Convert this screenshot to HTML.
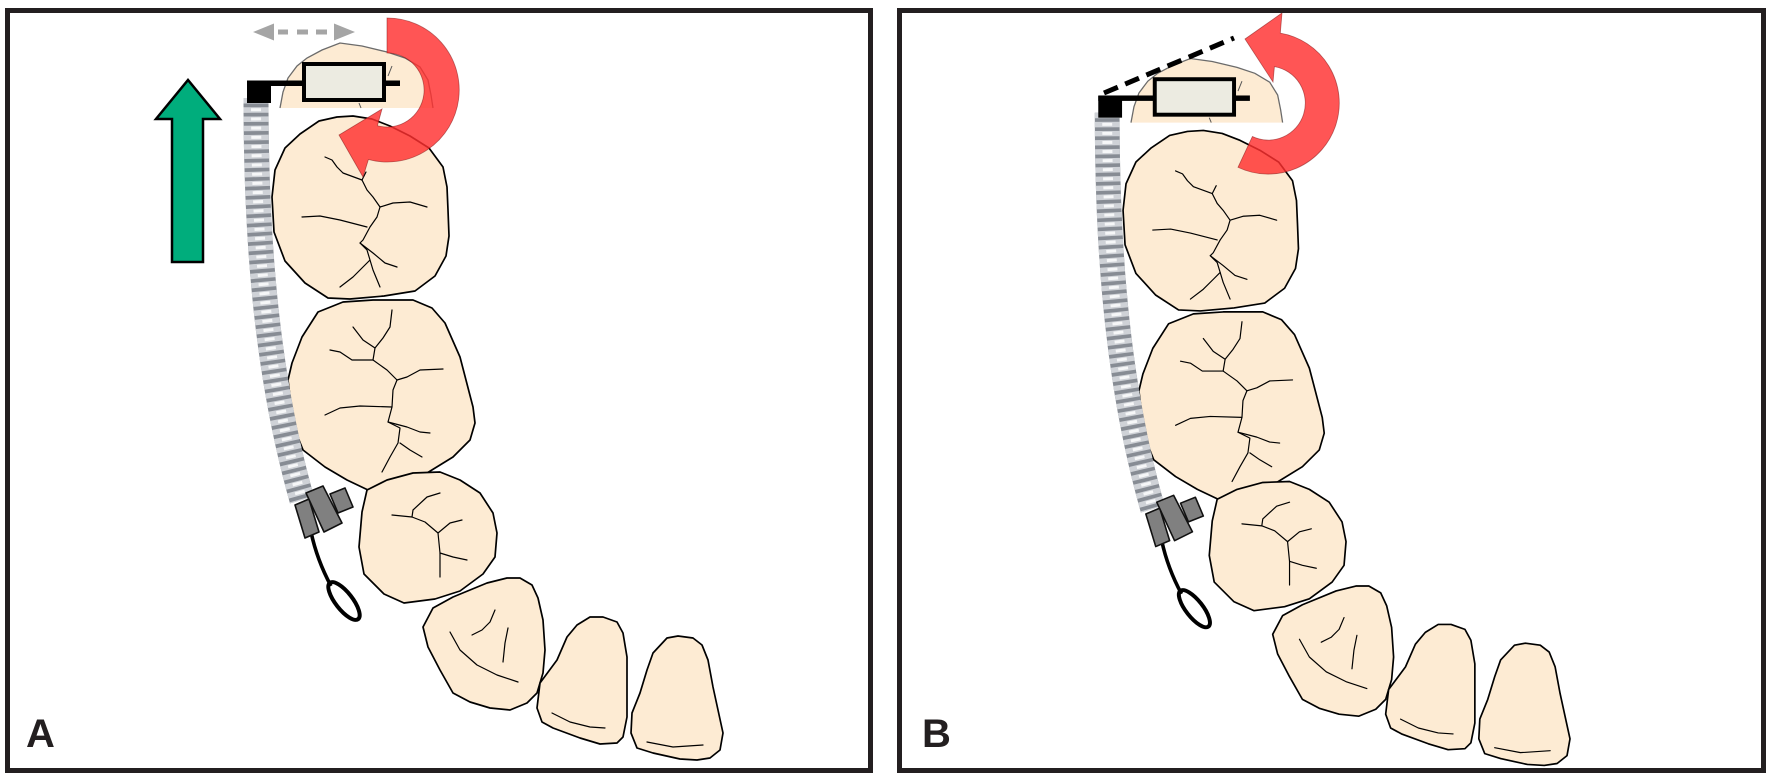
<!DOCTYPE html>
<html>
<head>
<meta charset="utf-8">
<style>
html,body{margin:0;padding:0;background:#fff;}
svg{display:block;}
</style>
</head>
<body>
<svg xmlns="http://www.w3.org/2000/svg" xmlns:xlink="http://www.w3.org/1999/xlink" width="1771" height="775" viewBox="0 0 1771 775">
<defs>
<g id="common">
  <!-- teeth -->
  <g fill="#fdebd3" stroke="#000" stroke-width="1.7" stroke-linejoin="round">
    <!-- molar 1 -->
    <polygon points="285,148 300,134 319,121 337,117 353,116 372,119 390,126 410,136 429,148 443,167 447,187 448,210 449,236 446,256 435,276 415,291 384,296 350,299 328,298 305,283 285,261 274,232 272,197 275,170"/>
    <!-- molar 2 -->
    <polygon points="318,312 343,302 373,300 413,300 432,308 445,323 460,357 473,407 475,423 470,440 453,457 427,473 400,480 368,490 347,480 325,467 303,450 295,430 290,397 288,380 292,363 302,337"/>
    <!-- premolar -->
    <polygon points="367,490 387,480 413,473 440,472 460,480 480,493 493,513 497,533 495,557 483,574 460,591 435,599 404,603 384,594 364,574 359,547 362,512"/>
    <!-- tooth 4 -->
    <polygon points="433,608 453,597 487,583 507,578 520,578 532,585 538,598 543,620 545,650 543,673 537,693 527,703 510,710 490,708 470,702 453,693 440,670 428,647 423,627"/>
    <!-- incisor 1 -->
    <polygon points="540,683 557,660 567,637 577,625 590,617 603,617 617,622 623,633 627,657 627,687 627,717 623,737 617,743 600,744 580,738 553,728 542,722 537,708"/>
    <!-- incisor 2 -->
    <polygon points="667,638 678,636 693,638 702,645 708,660 713,687 718,710 723,733 720,750 710,758 697,760 680,759 653,753 637,748 631,733 632,713 640,693 647,670 653,653"/>
  </g>
  <!-- fissures -->
  <g fill="none" stroke="#000" stroke-width="1.2" stroke-linejoin="round" stroke-linecap="round">
    <polyline points="325,157 332,160 337,167 343,173 362,180 366,172"/>
    <polyline points="362,180 367,190 373,197 380,207 377,217 370,227 363,240 360,243 367,250 370,260 363,267 353,277 340,287"/>
    <polyline points="380,207 393,203 410,202 427,207"/>
    <polyline points="302,217 320,216 340,220 367,227"/>
    <polyline points="360,243 373,253 385,263 397,267"/>
    <polyline points="370,260 373,270 380,287"/>

    <polyline points="392,310 390,327 383,338 375,348 373,360 387,370 397,380 393,390 392,407 388,422 400,428 398,443 390,457 382,472"/>
    <polyline points="353,327 363,340 375,348"/>
    <polyline points="330,350 340,352 352,360 373,360"/>
    <polyline points="397,380 407,377 420,370 443,369"/>
    <polyline points="325,415 340,408 360,406 392,407"/>
    <polyline points="388,422 407,427 420,432 430,433"/>
    <polyline points="400,443 410,450 422,457"/>

    <polyline points="392,515 412,517 425,522 438,533 440,553 440,577"/>
    <polyline points="412,517 413,510 427,497 440,493"/>
    <polyline points="438,533 450,523 462,520"/>
    <polyline points="440,553 453,557 467,560"/>

    <polyline points="450,632 460,650 477,665 497,675 518,682"/>
    <polyline points="495,610 490,622 482,630 472,635"/>
    <polyline points="508,628 505,643 503,662"/>

    <polyline points="552,713 570,722 590,727 605,728"/>
    <polyline points="647,742 673,747 703,745"/>
  </g>
  <!-- partial back tooth (clipped) -->
  <polygon points="280,108 283,92 288,78 297,66 307,58 322,50 340,43 362,46 387,52 405,58 420,67 428,80 431,95 433,108" fill="#fdebd3" stroke="none"/>
  <polyline points="280,108 283,92 288,78 297,66 307,58 322,50 340,43 362,46 387,52 405,58 420,67 428,80 431,95 433,108" fill="none" stroke="#6b6b6b" stroke-width="1.3"/>
  <line x1="392" y1="66" x2="388" y2="76" stroke="#555" stroke-width="1"/>
  <line x1="359" y1="103" x2="361" y2="108" stroke="#555" stroke-width="1"/>

  <!-- spring -->
  <path d="M256,98 C256,250 268,380 302,500" fill="none" stroke="#878c94" stroke-width="25"/>
  <path d="M256,98 C256,250 268,380 302,500" fill="none" stroke="#cfd2d7" stroke-width="25" stroke-dasharray="5.5 3.7"/>
  <path d="M256,98 C256,250 268,380 302,500" fill="none" stroke="#f6f7f8" stroke-width="10" stroke-dasharray="3 6.2" stroke-dashoffset="-1"/>

  <!-- wire + loop -->
  <path d="M311,532 Q317,560 331,586" fill="none" stroke="#000" stroke-width="3.6"/>
  <ellipse cx="344" cy="601" rx="23" ry="8.5" transform="rotate(52 344 601)" fill="none" stroke="#000" stroke-width="4"/>

  <!-- connector -->
  <g fill="#808080" stroke="#111" stroke-width="1.6" stroke-linejoin="round">
    <polygon points="330,494 345,488 353,507 338,513"/>
    <polygon points="295,505 309,499 319,532 305,538"/>
    <polygon points="306,493 323,486 342,523 324,532"/>
  </g>

  <!-- appliance -->
  <rect x="247" y="80.5" width="153" height="5.5" fill="#000"/>
  <rect x="247" y="81" width="24" height="22" fill="#000"/>
  <rect x="304" y="64" width="80" height="36" fill="#ecebe1" stroke="#000" stroke-width="4"/>
</g>
</defs>

<rect x="0" y="0" width="1771" height="775" fill="#fff"/>

<!-- Panel A -->
<use xlink:href="#common" href="#common"/>

<!-- green arrow -->
<polygon points="172,262 203,262 203,119 220,119 188,80 156,119 172,119" fill="#00ad7c" stroke="#000" stroke-width="2.5" stroke-linejoin="miter"/>

<!-- gray double dashed arrow -->
<g fill="#a5a5a5">
  <polygon points="253,32 274,23.5 274,40.5"/>
  <polygon points="355,32 334,23.5 334,40.5"/>
  <rect x="278" y="29.5" width="10" height="5"/>
  <rect x="297" y="29.5" width="11" height="5"/>
  <rect x="316" y="29.5" width="11" height="5"/>
</g>

<!-- red arrow A -->
<path d="M387,18 A72,72 0 1 1 368.4,159.5 L363,177 L339,135 L382,109 L377.4,125.7 A37,37 0 1 0 387,53 Z" fill="#ff3030" fill-opacity="0.82" stroke="#8b1a1a" stroke-opacity="0.6" stroke-width="0.8"/>

<!-- Panel B -->
<use xlink:href="#common" href="#common" transform="matrix(0.991,0,0,0.986,853.5,16.1)"/>

<!-- dashed line B -->
<line x1="1104" y1="93" x2="1234" y2="38" stroke="#000" stroke-width="5" stroke-dasharray="15 8"/>

<!-- red arrow B -->
<path d="M1238,167.3 A71,71 0 1 0 1280.3,33.1 L1282,13 L1245,39 L1273,82 L1274.4,66.6 A37,37 0 1 1 1252.4,136.5 Z" fill="#ff3030" fill-opacity="0.82" stroke="#8b1a1a" stroke-opacity="0.6" stroke-width="0.8"/>

<!-- borders -->
<rect x="7.5" y="10.5" width="863" height="760" fill="none" stroke="#231f20" stroke-width="5"/>
<rect x="899.5" y="10.5" width="864" height="760" fill="none" stroke="#231f20" stroke-width="5"/>

<!-- labels -->
<text x="26" y="747" font-family="'Liberation Sans', Arial, sans-serif" font-weight="bold" font-size="40" fill="#231f20">A</text>
<text x="922" y="747" font-family="'Liberation Sans', Arial, sans-serif" font-weight="bold" font-size="40" fill="#231f20">B</text>
</svg>
</body>
</html>
